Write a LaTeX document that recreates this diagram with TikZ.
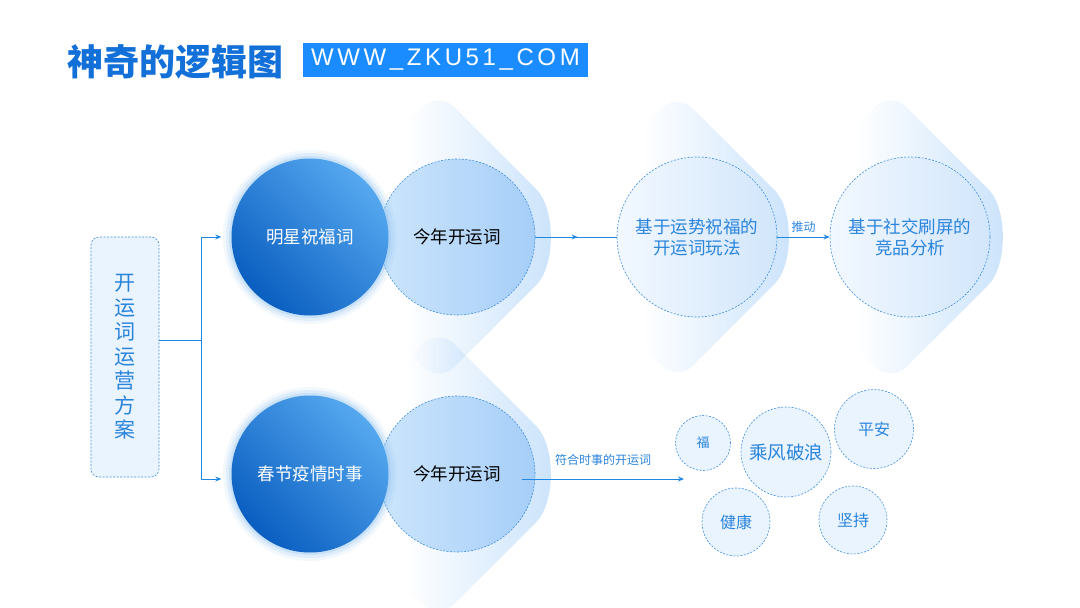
\documentclass[tikz,border=0pt]{standalone}
\usepackage{fontspec}
\setmainfont{Noto Sans CJK SC}
\newfontfamily\urlfont[LetterSpace=15]{Liberation Sans}
\usetikzlibrary{arrows.meta,decorations.markings}
\definecolor{boxblue}{HTML}{1A8CFF}
\definecolor{titleblue}{HTML}{1270D8}
\definecolor{linec}{HTML}{1E88E5}
\definecolor{dashc}{HTML}{3F8FE0}
\definecolor{txtblue}{HTML}{2A84DE}
\definecolor{darkA}{HTML}{55A8EF}
\definecolor{darkB}{HTML}{0A5EC0}
\definecolor{liteA}{HTML}{CCE5FC}
\definecolor{liteB}{HTML}{A6CEF8}
\definecolor{paleA}{HTML}{F2F8FF}
\definecolor{paleB}{HTML}{D2E6FB}
\definecolor{chv}{HTML}{CBE3FB}
\definecolor{smallfill}{HTML}{EAF4FE}
\definecolor{glowc}{HTML}{8EC3F2}
\pgfdeclarehorizontalshading{chvsh}{100bp}{color(0bp)=(white); color(46bp)=(white); color(66bp)=(chv!70!white); color(75bp)=(chv); color(100bp)=(chv)}
\begin{document}
\begin{tikzpicture}[x=1pt,y=-1pt,
  fs/.style={font=\fontsize{#1}{#1}\selectfont},
  darkcirc/.style={circle, minimum size=157pt, inner sep=0pt,
    top color=darkA, bottom color=darkB, shading angle=-45, text=white,
    font=\fontsize{17.5}{21}\selectfont},
  litecirc/.style={circle, minimum size=156pt, inner sep=0pt,
    left color=liteA, right color=liteB, draw=dashc, line width=0.6pt,
    dash pattern=on 2pt off 1.5pt, text=black,
    font=\fontsize{17.5}{21}\selectfont},
  palecirc/.style={circle, minimum size=160pt, inner sep=0pt,
    left color=paleA, right color=paleB, draw=dashc, line width=0.6pt,
    dash pattern=on 2pt off 1.5pt, text=txtblue, align=center,
    font=\fontsize{17.5}{21}\selectfont},
  smallc/.style={circle, inner sep=0pt, fill=smallfill, draw=dashc,
    line width=0.6pt, dash pattern=on 2pt off 1.5pt, text=txtblue},
  conn/.style={draw=linec, line width=0.9pt},
  tip/.style={-{Stealth[length=6pt,width=5pt]}},
  chevron/.style={shading=chvsh, rounded corners=22pt, blend mode=multiply},
  glowring/.style={fill=glowc, opacity=#1}
]
\useasboundingbox (0,0) rectangle (1080,608);
\fill[white] (0,0) rectangle (1080,608);

% background chevrons
\shade[chevron] (293,474) -- (438.6,328.4) -- (520.6,410.4)
   arc[start angle=-45,end angle=45,radius=90] -- (438.6,619.6) -- cycle;
\shade[chevron] (745,237) -- (890.6,91.4) -- (972.6,173.4)
   arc[start angle=-45,end angle=45,radius=90] -- (890.6,382.6) -- cycle;
\shade[chevron] (533,237) -- (677.2,92.8) -- (759.2,174.8)
   arc[start angle=-45,end angle=45,radius=88] -- (677.2,381.2) -- cycle;
\shade[chevron] (293,237) -- (438.6,91.4) -- (520.6,173.4)
   arc[start angle=-45,end angle=45,radius=90] -- (438.6,382.6) -- cycle;

% title
\node[font=\fontsize{36}{40}\selectfont\bfseries, text=titleblue, anchor=west, inner sep=0pt]
  (title) at (67,62) {神奇的逻辑图};
\node[fill=boxblue, minimum width=285pt, minimum height=34pt, inner sep=0pt,
  text=white, font=\urlfont\fontsize{24}{28}\selectfont]
  (url) at (445.5,60) {WWW\_ZKU51\_COM};

% left box
\node[draw=dashc, line width=0.6pt, dash pattern=on 2pt off 1.5pt,
  fill=smallfill, rounded corners=8pt, minimum width=68pt, minimum height=240pt,
  inner sep=0pt, text=txtblue, align=center,
  font=\fontsize{21}{24.5}\selectfont] (src) at (125,357)
  {开\\运\\词\\运\\营\\方\\案};

% row 1
\node[litecirc] (l1) at (457,237) {今年开运词};
\foreach \r/\o in {87/0.10,84/0.18,81/0.3}
  \fill[glowring=\o] (310,237) circle[radius=\r];
\node[darkcirc] (d1) at (310,237) {明星祝福词};
\node[palecirc] (c3) at (697,237) {基于运势祝福的\\开运词玩法};
\node[palecirc] (c4) at (910,237) {基于社交刷屏的\\竞品分析};

% row 2
\node[litecirc] (l2) at (457,474) {今年开运词};
\foreach \r/\o in {87/0.10,84/0.18,81/0.3}
  \fill[glowring=\o] (310,474) circle[radius=\r];
\node[darkcirc] (d2) at (310,474) {春节疫情时事};

% small circles
\node[smallc, minimum size=55pt, fs=13] (s1) at (703,443) {福};
\node[smallc, minimum size=90pt, fs=18.5] (s2) at (786,452) {乘风破浪};
\node[smallc, minimum size=79pt, fs=16] (s3) at (874,429) {平安};
\node[smallc, minimum size=68pt, fs=16] (s4) at (736,522) {健康};
\node[smallc, minimum size=68pt, fs=16] (s5) at (853,520) {坚持};

% connectors
\coordinate (j) at (201,340);
\draw[conn] ([yshift=17pt]src.east) -- (j);
\draw[conn, tip] (j) |- ([xshift=-10pt]d1.west);
\draw[conn, tip] (j) |- ([xshift=-10pt,yshift=-5pt]d2.west);
\draw[conn, postaction={decorate}, decoration={markings,
  mark=at position 0.52 with {\arrow{Stealth[length=6pt,width=5pt]}}}]
  (l1.east) -- (c3.west);
\draw[conn, tip] (c3.east) -- node[above=1pt, fs=12, text=txtblue] {推动} (c4.west);
\coordinate (e2) at (684,479);
\draw[conn, tip] ([xshift=65pt,yshift=-5pt]l2.center) --
  node[above=10pt, fs=12, text=txtblue] {符合时事的开运词} (e2);
\end{tikzpicture}
\end{document}
